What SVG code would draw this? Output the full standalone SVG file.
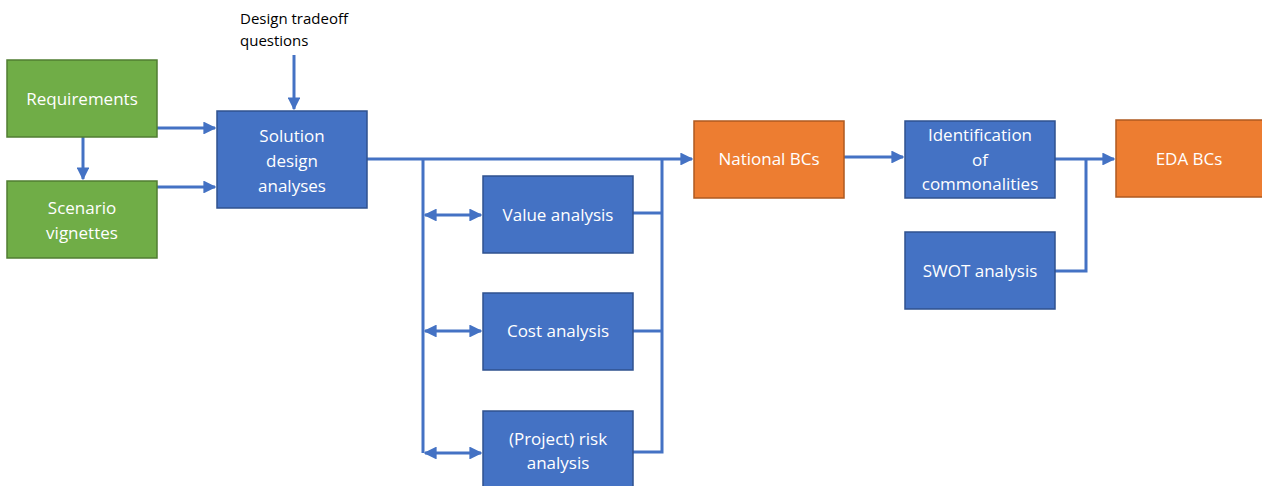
<svg xmlns="http://www.w3.org/2000/svg" width="1262" height="486" viewBox="0 0 1262 486">
<style>
.g{fill:#70AD47;stroke:#507E32;stroke-width:1.5}
.b{fill:#4472C4;stroke:#2F528F;stroke-width:1.5}
.o{fill:#ED7D31;stroke:#AE5A21;stroke-width:1.5}
.t{font-family:"Open Sans","Liberation Sans",sans-serif;font-size:17px;fill:#fff;text-anchor:middle}
.k{font-family:"Open Sans","Liberation Sans",sans-serif;font-size:15px;fill:#000}
.c{stroke:#4472C4;stroke-width:3;fill:none}
</style>
<defs>
<marker id="ah" viewBox="0 0 10 10" refX="9" refY="5" markerWidth="4.3" markerHeight="4.3" orient="auto-start-reverse"><path d="M0,0 L10,5 L0,10 z" fill="#4472C4"/></marker>
</defs>
<rect width="1262" height="486" fill="#fff"/>
<g id="connectors">
<path class="c" d="M294,55 V109" marker-end="url(#ah)"/>
<path class="c" d="M157,128 H215" marker-end="url(#ah)"/>
<path class="c" d="M157,187 H215" marker-end="url(#ah)"/>
<path class="c" d="M83,137 V179" marker-end="url(#ah)"/>
<path class="c" d="M367,159 H692" marker-end="url(#ah)"/>
<path class="c" d="M423,159 V453"/>
<path class="c" d="M425,215 H481" marker-start="url(#ah)" marker-end="url(#ah)"/>
<path class="c" d="M425,331 H481" marker-start="url(#ah)" marker-end="url(#ah)"/>
<path class="c" d="M425,453 H481" marker-start="url(#ah)" marker-end="url(#ah)"/>
<path class="c" d="M662,159 V452 H633"/>
<path class="c" d="M633,213 H662"/>
<path class="c" d="M633,331 H662"/>
<path class="c" d="M844,157 H903" marker-end="url(#ah)"/>
<path class="c" d="M1055,159 H1114" marker-end="url(#ah)"/>
<path class="c" d="M1055,271 H1086 V159"/>
</g>
<g id="label-tradeoff"><text class="k" x="240" y="24">Design tradeoff</text><text class="k" x="240" y="46">questions</text></g>
<g id="requirements"><rect class="g" x="7" y="60" width="150" height="77"/><text class="t" x="82" y="105">Requirements</text></g>
<g id="scenario"><rect class="g" x="7" y="181" width="150" height="77"/><text class="t" x="82" y="214">Scenario</text><text class="t" x="82" y="239">vignettes</text></g>
<g id="solution"><rect class="b" x="217" y="111" width="150" height="97"/><text class="t" x="292" y="142">Solution</text><text class="t" x="292" y="167">design</text><text class="t" x="292" y="192">analyses</text></g>
<g id="value"><rect class="b" x="483" y="176" width="150" height="77"/><text class="t" x="558" y="221">Value analysis</text></g>
<g id="cost"><rect class="b" x="483" y="293" width="150" height="77"/><text class="t" x="558" y="337">Cost analysis</text></g>
<g id="risk"><rect class="b" x="483" y="411" width="150" height="80"/><text class="t" x="558" y="445">(Project) risk</text><text class="t" x="558" y="469">analysis</text></g>
<g id="national"><rect class="o" x="694" y="121" width="150" height="77"/><text class="t" x="769" y="165">National BCs</text></g>
<g id="identification"><rect class="b" x="905" y="121" width="150" height="77"/><text class="t" x="980" y="141">Identification</text><text class="t" x="980" y="166">of</text><text class="t" x="980" y="190">commonalities</text></g>
<g id="swot"><rect class="b" x="905" y="232" width="150" height="77"/><text class="t" x="980" y="277">SWOT analysis</text></g>
<g id="eda"><rect class="o" x="1116" y="120" width="150" height="77"/><text class="t" x="1189" y="165">EDA BCs</text></g>
</svg>
